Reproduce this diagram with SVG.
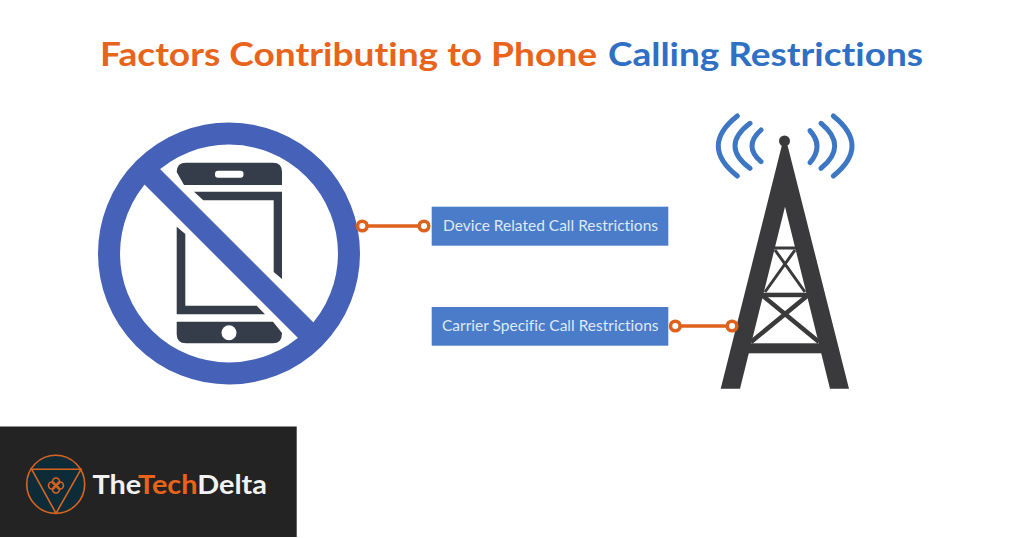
<svg xmlns="http://www.w3.org/2000/svg" width="1024" height="538" viewBox="0 0 1024 538">
<style>
text{font-family:"Lato","Noto Sans","Liberation Sans",sans-serif;font-variant-ligatures:none}
.title{font-size:33px;font-weight:700}
.label{font-size:15px;fill:#dfe9f8}
.box{fill:#4a7cc9}
.dark{fill:#363d4a}
.tower{fill:#3a3a3c}
.brace{stroke:#3a3a3c;fill:none;stroke-width:3}
.brace2{stroke:#3a3a3c;fill:none;stroke-width:4.500}
.wave{fill:none;stroke:#3d76c3;stroke-width:5;stroke-linecap:round}
.link{stroke:#df621c;stroke-width:3.500;fill:none}
.dot{fill:#fff;stroke:#df621c;stroke-width:3.500}
.lg{fill:none;stroke:#d9641f;stroke-width:1.600}
</style>
<rect width="1024" height="538" fill="#fff"/>
<g id="title">
<text class="title" x="100" y="66" fill="#e8641b" textLength="497" lengthAdjust="spacingAndGlyphs">Factors Contributing to Phone</text>
<text class="title" x="608" y="66" fill="#2f6fc4" textLength="315" lengthAdjust="spacingAndGlyphs">Calling Restrictions</text>
</g>
<g id="no-phone">
<path class="dark" d="M176.700 172Q176.700 162.700 186 162.700H273Q282 162.700 282 172V185H184Z"/>
<rect x="215" y="170.700" width="28.500" height="7" rx="3" fill="#fff"/>
<path class="dark" d="M194 191.700H282V279L273.700 272V200.300H203.300Z"/>
<path class="dark" d="M176.700 226.700L185.300 234V305.700H256.700L265 314.300H176.700Z"/>
<path class="dark" d="M176.700 321.700H273L282 333Q282 343.300 273 343.300H186Q176.700 343.300 176.700 334Z"/>
<circle cx="229" cy="332.700" r="7.500" fill="#fff"/>
<polygon points="153,162 321,330 305,345 137,177" fill="#4562b8"/>
<circle cx="229" cy="253.500" r="120" fill="none" stroke="#4562b8" stroke-width="22"/>
</g>
<g id="tower">
<circle cx="784.500" cy="141" r="5.500" class="tower"/>
<path class="tower" d="M785 206.700L740 388.700H720.700L781.700 146H787.700L849 388.700H830Z"/>
<rect class="tower" x="746" y="343.300" width="78" height="10"/>
<rect class="tower" x="772" y="246.500" width="26" height="3"/>
<rect class="tower" x="760" y="292.700" width="50" height="4.500"/>
<path class="brace" d="M775 250L805 292M795 250L765 292"/>
<path class="brace2" d="M763 296L819 342M807 296L751 342"/>
<path class="wave" d="M737.300 116Q699.300 146 737.300 176M750 123.300Q720 146 750 168.300M761 130Q743 146 761 161.700"/>
<path class="wave" d="M833.300 116Q870.700 146 833.300 176M821 123.300Q848.400 146 821 168.300M810 130.700Q824 146 810 162.700"/>
</g>
<g id="device-box">
<rect class="box" x="431.700" y="206.700" width="236.600" height="39"/>
<text class="label" x="443" y="231" textLength="215" lengthAdjust="spacingAndGlyphs">Device Related Call Restrictions</text>
</g>
<g id="carrier-box">
<rect class="box" x="431.700" y="307" width="236.600" height="38.700"/>
<text class="label" x="442" y="331" textLength="216.500" lengthAdjust="spacingAndGlyphs">Carrier Specific Call Restrictions</text>
</g>
<g id="connectors">
<path class="link" d="M362.300 226H424"/>
<circle class="dot" cx="362.300" cy="226" r="4.800"/>
<circle class="dot" cx="424" cy="226" r="4.800"/>
<path class="link" d="M675.300 326H732"/>
<circle class="dot" cx="675.300" cy="326" r="4.800"/>
<circle class="dot" cx="732" cy="326" r="4.800"/>
</g>
<g id="logo">
<rect x="0" y="426.500" width="296.700" height="110.500" fill="#232323"/>
<circle cx="55.700" cy="484.300" r="29" fill="#0e2c38" stroke="#d9641f" stroke-width="1.600"/>
<path d="M31.700 469.300H81L56 513.300Z" fill="#0e2c38" stroke="#d9641f" stroke-width="1.600"/>
<circle class="lg" cx="56" cy="481.500" r="3.500"/>
<circle class="lg" cx="56" cy="489.500" r="3.500"/>
<circle class="lg" cx="52" cy="485.500" r="3.500"/>
<circle class="lg" cx="60" cy="485.500" r="3.500"/>
<text x="92.500" y="494" font-size="26" font-weight="700" fill="#f2f2f2" textLength="174.500" lengthAdjust="spacingAndGlyphs">The<tspan fill="#e8641b">Tech</tspan>Delta</text>
</g>
</svg>
